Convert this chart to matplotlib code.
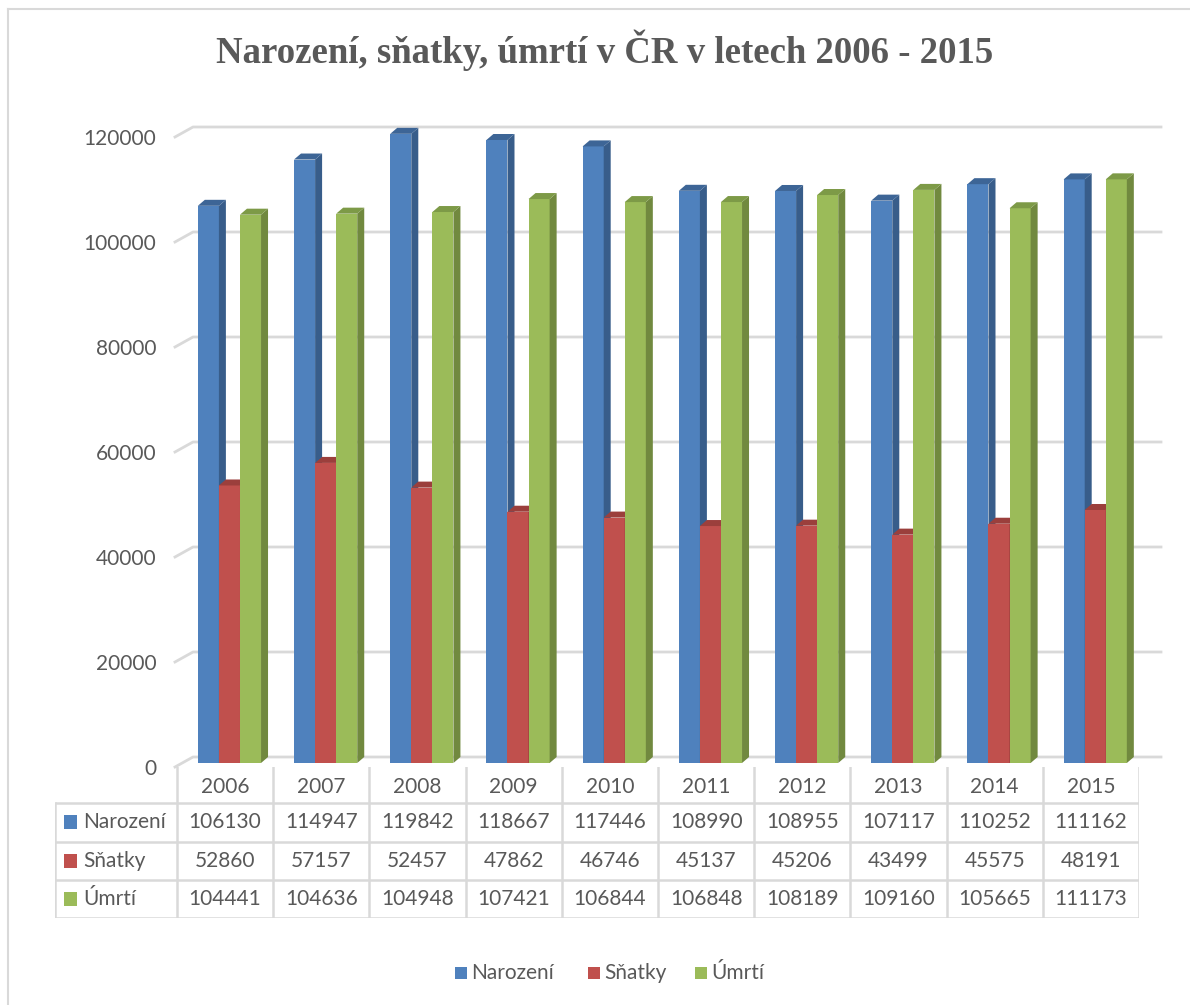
import numpy as np
import matplotlib.pyplot as plt
from matplotlib.patches import Polygon, Rectangle

# Data
years = ['2006', '2007', '2008', '2009', '2010', '2011', '2012', '2013', '2014', '2015']
narozeni = [106130, 114947, 119842, 118667, 117446, 108990, 108955, 107117, 110252, 111162]
snatky = [52860, 57157, 52457, 47862, 46746, 45137, 45206, 43499, 45575, 48191]
umrti = [104441, 104636, 104948, 107421, 106844, 106848, 108189, 109160, 105665, 111173]
series_names = ['Narození', 'Sňatky', 'Úmrtí']
yticks = [0, 20000, 40000, 60000, 80000, 100000, 120000]

# Colours (front, side, top)
colors = [('#4f81bd', '#385d8a', '#3d6596'),
          ('#c0504d', '#8c3836', '#9b3f3c'),
          ('#9bbb59', '#71893f', '#7d9a47')]
txt = '#595959'
grid_c = '#d9d9d9'
font = 'Lato'
fs = 15

W, H = 1190, 1005
fig = plt.figure(figsize=(W / 100, H / 100), dpi=100)

def fx(px):
    return px / W

def fy(py):
    return 1 - py / H

# frame
fig.add_artist(plt.Line2D([fx(8), fx(8)], [fy(9), 0], color=grid_c, lw=1.5))
fig.add_artist(plt.Line2D([fx(8), 1], [fy(9), fy(9)], color=grid_c, lw=1.5))

fig.text(fx(605), fy(50), 'Narození, sňatky, úmrtí v ČR v letech 2006 - 2015',
         ha='center', va='center', family='Liberation Serif', weight='bold',
         fontsize=26.5, color=txt)

# main axes: x from 177 to 1139 px, 0 at 767 px, 120000 at 137 px
ax = fig.add_axes([fx(177), fy(767), fx(1139) - fx(177), fy(137) - fy(767)])
ax.set_xlim(-0.5, 9.5)
ax.set_ylim(0, 120000)
for s in ax.spines.values():
    s.set_visible(False)
ax.set_xticks([])
ax.set_yticks(yticks)
ax.set_yticklabels([str(v) for v in yticks], fontsize=fs, color=txt, family=font)
ax.tick_params(axis='y', length=0, pad=15)

ux = 10 / (1139 - 177)          # data units per px (x)
uy = 120000 / (767 - 137)       # data units per px (y)

# grid: front-left diagonal, then along back wall
gdx, gdy = 18 * ux, 10 * uy
for v in yticks:
    x0 = -0.5 - 2 * ux
    ax.plot([x0, x0 + gdx, 9.5 + gdx + 4 * ux], [v, v + gdy, v + gdy],
            color=grid_c, lw=2, clip_on=False, zorder=0)

# pseudo-3D bars (sitting a few px back from the front edge)
w = 0.219
bdx, bdy = 7 * ux, 6 * uy
base = 4 * uy
xs = np.arange(len(years)) + 0.045
for j, vals in enumerate([narozeni, snatky, umrti]):
    front, side, top = colors[j]
    xl = xs + (j - 1.5) * w
    tops = np.array(vals) + base
    ax.bar(xl, np.array(vals), width=w, bottom=base, align='edge',
           color=front, lw=0, zorder=2 + j, clip_on=False)
    for x, v in zip(xl, tops):
        ax.add_patch(Polygon([(x + w, base), (x + w + bdx, base + bdy),
                              (x + w + bdx, v + bdy), (x + w, v)],
                             closed=True, fc=side, lw=0, zorder=2 + j, clip_on=False))
        ax.add_patch(Polygon([(x, v), (x + bdx, v + bdy), (x + w + bdx, v + bdy),
                              (x + w, v)],
                             closed=True, fc=top, lw=0, zorder=2 + j, clip_on=False))

# data table
tab = fig.add_axes([fx(55), fy(918), fx(1139) - fx(55), fy(767) - fy(918)])
xl0 = -0.5 - (177 - 55) * ux
tab.set_xlim(xl0, 9.5)
tab.set_ylim(918, 767)
tab.axis('off')
row_y = [767, 803, 842, 880, 918]
lw_t = 1.8
for ry in row_y[1:]:
    tab.plot([xl0, 9.5], [ry, ry], color=grid_c, lw=lw_t, solid_capstyle='butt')
tab.plot([xl0, xl0], [803, 918], color=grid_c, lw=lw_t)
for k in range(len(years) + 1):
    tab.plot([k - 0.5, k - 0.5], [767, 918], color=grid_c, lw=lw_t)
for k, yr in enumerate(years):
    tab.text(k, 787, yr, ha='center', va='center', fontsize=fs, color=txt, family=font)
for j, vals in enumerate([narozeni, snatky, umrti]):
    cy = (row_y[j + 1] + row_y[j + 2]) / 2
    tab.add_patch(Rectangle((xl0 + 9 * ux, cy - 7), 13 * ux, 14, fc=colors[j][0], lw=0))
    tab.text(xl0 + 28 * ux, cy, series_names[j], ha='left', va='center',
             fontsize=fs, color=txt, family=font)
    for k, v in enumerate(vals):
        tab.text(k, cy, str(v), ha='center', va='center', fontsize=fs,
                 color=txt, family=font)

# legend
lx = [455, 588, 695]
for j, name in enumerate(series_names):
    fig.add_artist(Rectangle((fx(lx[j]), fy(979)), fx(12), 12 / H,
                             fc=colors[j][0], lw=0))
    fig.text(fx(lx[j] + 16), fy(973), name, ha='left', va='center',
             fontsize=fs, color=txt, family=font)

fig.savefig('out.png', dpi=100)
